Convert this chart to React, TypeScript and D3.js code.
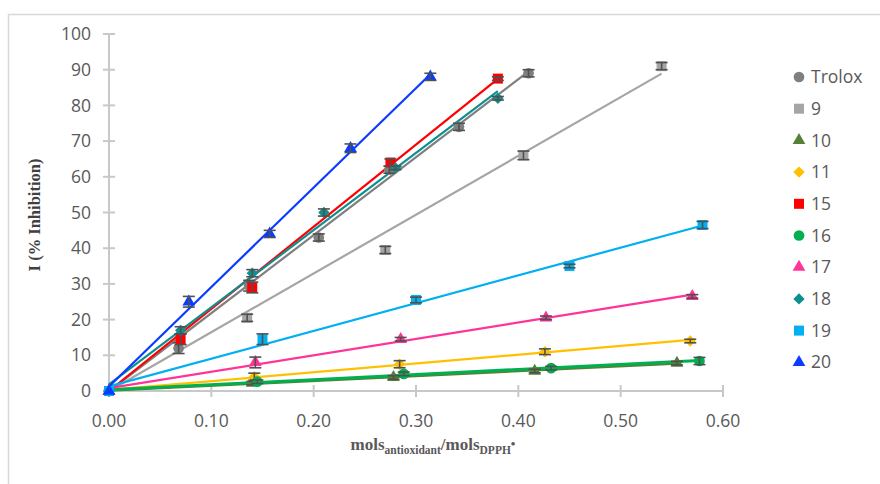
import React from 'react';
import * as d3 from 'd3';

// series names as in the legend
const names = ['Trolox', '9', '10', '11', '15', '16', '17', '18', '19', '20'];
const colors = ['#7f7f7f', '#a5a5a5', '#548235', '#ffc000', '#ff0000', '#00b050', '#ff3399', '#0e8f8f', '#00b0f0', '#0a3cff'];
const shapes = ['circle', 'square', 'triangle', 'diamond', 'square', 'circle', 'triangle', 'diamond', 'square', 'triangle'];

// x = mols antioxidant / mols DPPH, y = % inhibition, e = error
const xs = [
  [0, 0.068, 0.137, 0.205, 0.274, 0.342, 0.41],
  [0, 0.135, 0.27, 0.405, 0.54],
  [0, 0.14, 0.278, 0.416, 0.555],
  [0, 0.142, 0.284, 0.426, 0.568],
  [0, 0.07, 0.14, 0.275, 0.38],
  [0, 0.145, 0.288, 0.432, 0.577],
  [0, 0.143, 0.285, 0.427, 0.57],
  [0, 0.07, 0.14, 0.21, 0.28, 0.38],
  [0, 0.15, 0.30, 0.45, 0.58],
  [0, 0.078, 0.157, 0.236, 0.314],
];
const ys = [
  [0, 12, 29.5, 43, 62, 74, 89],
  [0, 20.5, 39.5, 66, 91],
  [0, 2.2, 3.8, 5.6, 7.8],
  [0, 4, 7.5, 11, 14],
  [0, 14.5, 29, 64, 87.5],
  [0, 2.6, 4.8, 6.4, 8.4],
  [0, 8, 14.5, 20.5, 26.5],
  [0, 17, 33, 50, 62.5, 82],
  [0, 14.5, 25.5, 35, 46.5],
  [0, 25, 44, 68, 88],
];
const es = [
  [0, 1.5, 1.5, 1, 1, 1, 1],
  [0, 1, 1, 1.2, 1],
  [0, 0.5, 0.5, 0.5, 0.5],
  [0, 1, 1, 0.8, 0.5],
  [0, 1.5, 1.5, 1, 0.5],
  [0, 0.5, 0.5, 0.5, 1],
  [0, 1.5, 0.5, 0.5, 0.5],
  [0, 1, 1, 1, 0.5, 0.5],
  [0, 1.5, 0.8, 0.5, 1],
  [0, 1.5, 1, 1.2, 1],
];
const xTicks = [0, 0.1, 0.2, 0.3, 0.4, 0.5, 0.6];
const yTicks = [0, 10, 20, 30, 40, 50, 60, 70, 80, 90, 100];

// excel-like markers; the diamond is a square turned 45 degrees
const Marker = ({ shape, color }: { shape: string; color: string }) => {
  if (shape === 'diamond') {
    return <rect x={-4} y={-4} width={8} height={8} fill={color} transform="rotate(45)" />;
  }
  const t = shape === 'circle' ? d3.symbolCircle : shape === 'square' ? d3.symbolSquare : d3.symbolTriangle;
  const size = shape === 'triangle' ? 70 : shape === 'circle' ? 90 : 100;
  return <path d={d3.symbol().type(t).size(size)() as string} fill={color} />;
};

const fit = (x: number[], y: number[]) => {
  const mx = d3.mean(x) as number;
  const my = d3.mean(y) as number;
  let num = 0, den = 0;
  x.forEach((v, i) => { num += (v - mx) * (y[i] - my); den += (v - mx) * (v - mx); });
  const a = num / den;
  return { a, b: my - a * mx };
};

export default function App() {
  const x = d3.scaleLinear().domain([0, 0.6]).range([109, 723]);
  const y = d3.scaleLinear().domain([0, 100]).range([391, 34]);
  const line = d3.line<number[]>().x(v => x(v[0])).y(v => y(v[1]));
  const font = '"Open Sans", sans-serif';
  const axisCol = '#c8c8c8';
  const txt = '#595959';

  return (
    <svg width={880} height={484} style={{ position: 'absolute', left: 0, top: 0, background: '#fff' }}>
      <rect x={8.5} y={14.5} width={900} height={500} fill="#fff" stroke="#d9d9d9" strokeWidth={1.5} />

      {/* axes */}
      <line x1={x(0)} x2={x(0)} y1={y(100)} y2={y(0)} stroke={axisCol} strokeWidth={2} />
      <line x1={x(0)} x2={x(0.6)} y1={y(0)} y2={y(0)} stroke={axisCol} strokeWidth={2} />
      {yTicks.map(t => (
        <g key={'y' + t}>
          <line x1={x(0) - 6} x2={x(0) + 6} y1={y(t)} y2={y(t)} stroke={axisCol} strokeWidth={2} />
          <text x={91} y={y(t)} dy="0.35em" textAnchor="end" fontFamily={font} fontSize={17.5} fill={txt}>{t}</text>
        </g>
      ))}
      {xTicks.map(t => (
        <g key={'x' + t}>
          <line x1={x(t)} x2={x(t)} y1={y(0) - 6} y2={y(0) + 6} stroke={axisCol} strokeWidth={2} />
          <text x={x(t)} y={421} dy="0.35em" textAnchor="middle" fontFamily={font} fontSize={17.5} fill={txt}>{t.toFixed(2)}</text>
        </g>
      ))}

      {/* trendlines */}
      {names.map((n, i) => {
        const { a, b } = fit(xs[i], ys[i]);
        const x1 = d3.max(xs[i]) as number;
        return (
          <path key={'l' + n} d={line([[0, Math.max(b, 0)], [x1, a * x1 + b]]) as string}
            fill="none" stroke={colors[i]} strokeWidth={n === '16' ? 3 : 2.2} />
        );
      })}

      {/* markers and error bars */}
      {names.map((n, i) => (
        <g key={'m' + n}>
          {xs[i].map((v, j) => (
            <g key={j} transform={`translate(${x(v)},${y(ys[i][j])})`}>
              <Marker shape={shapes[i]} color={colors[i]} />
            </g>
          ))}
          {xs[i].map((v, j) => es[i][j] > 0 ? (
            <g key={'e' + j} stroke="#505050" strokeWidth={1.6}>
              <line x1={x(v)} x2={x(v)} y1={y(ys[i][j] - es[i][j])} y2={y(ys[i][j] + es[i][j])} />
              <line x1={x(v) - 6} x2={x(v) + 6} y1={y(ys[i][j] + es[i][j])} y2={y(ys[i][j] + es[i][j])} />
              <line x1={x(v) - 6} x2={x(v) + 6} y1={y(ys[i][j] - es[i][j])} y2={y(ys[i][j] - es[i][j])} />
            </g>
          ) : null)}
        </g>
      ))}

      {/* axis titles */}
      <text transform="translate(40,215) rotate(-90)" textAnchor="middle" fontFamily='"Liberation Serif", serif' fontWeight="bold" fontSize={16.5} fill="#404040">I (% Inhibition)</text>
      <text x={433} y={450} textAnchor="middle" fontFamily='"Liberation Serif", serif' fontWeight="bold" fill="#595959">
        <tspan fontSize={17}>mols</tspan>
        <tspan fontSize={11.5} dy={4}>antioxidant</tspan>
        <tspan fontSize={17} dy={-4}>/mols</tspan>
        <tspan fontSize={11.5} dy={4}>DPPH</tspan>
        <tspan fontSize={13} dy={-6}>•</tspan>
      </text>

      {/* legend */}
      {names.map((n, i) => (
        <g key={'g' + n} transform={`translate(0,${77 + i * 31.7})`}>
          <g transform="translate(799,0)"><Marker shape={shapes[i]} color={colors[i]} /></g>
          <text x={811} y={0} dy="0.35em" fontFamily={font} fontSize={17.5} fill={txt}>{n}</text>
        </g>
      ))}
    </svg>
  );
}
